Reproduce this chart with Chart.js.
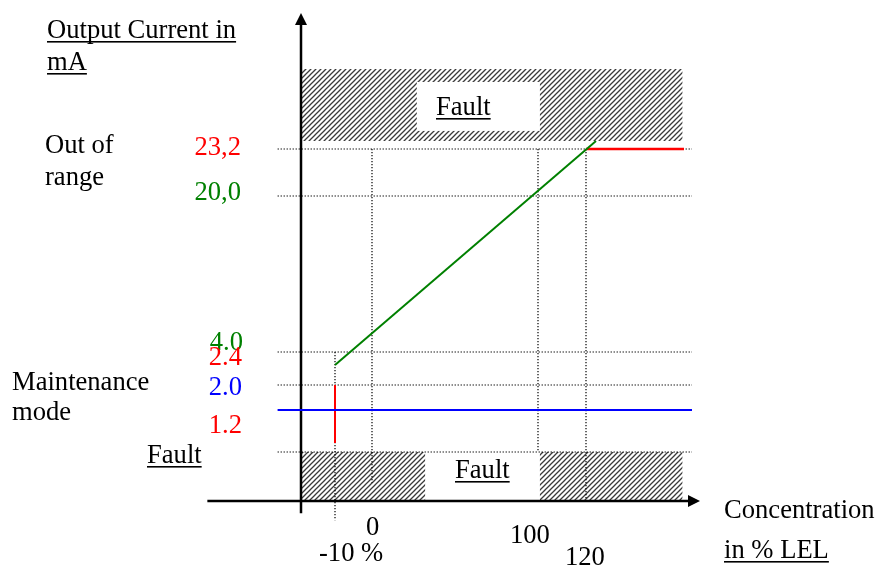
<!DOCTYPE html>
<html>
<head>
<meta charset="utf-8">
<script src="https://cdn.jsdelivr.net/npm/chart.js@4/dist/chart.umd.min.js"></script>
<style>
html,body{margin:0;padding:0;background:#fff;}
canvas{display:block;}
</style>
</head>
<body>
<canvas id="c" width="876" height="565"></canvas>
<script>
// ---------- data ----------
const measX = [-10, 125];          // % LEL, measuring line
const measY = [2.4, 24.0];         // mA
const overX = [120, 180];          // out of range (over-range) line
const overY = [23.2, 23.2];
const lowX = [-10, -10];           // underrange / fault line
const lowY = [2.0, 1.2];
const maintX = [-27, 185];         // maintenance mode line
const maintY = [1.6, 1.6];

const hGridLevels = [23.2, 20.0, 4.0, 2.0, 1.0];
const hGridFrom = -27, hGridTo = 185;
const vGridAt = [-10, 0, 100, 120];
const vGridTop = [4.0, 23.2, 23.2, 23.2];
const vGridBottom = [-0.6, 0.37, 1.0, 0.0];

const yTickLabels = ['23,2', '20,0', '4.0', '2.4', '2.0', '1.2'];
const yTickColors = ['#ff0000', '#008000', '#008000', '#ff0000', '#0000ff', '#ff0000'];
const xTickLabels = ['0', '-10 %', '100', '120'];

// ---------- schematic (non-proportional) scale definition ----------
const W = 876, H = 565;
const SCALE_BREAKS = {
  x: [[-110,0],[-20,301],[-10,335],[0,372],[100,538],[120,586],[125,596],[300,876]].map(b => [b[0], b[1]/W]),
  y: [[-2,565],[0,501],[1.0,452],[1.2,443],[1.6,410],[2.0,385],[2.4,365],[4.0,352],[20.0,196],[23.2,149],[24.0,141],[28.0,69],[32.0,0]].map(b => [b[0], 1 - b[1]/H])
};
function interp(b, v, from, to){
  if (v <= b[0][from]) { const a=b[0], c=b[1]; return a[to] + (v-a[from])*(c[to]-a[to])/(c[from]-a[from]); }
  for (let i=0;i<b.length-1;i++){
    const a=b[i], c=b[i+1];
    if (v >= a[from] && v <= c[from]) return a[to] + (v-a[from])*(c[to]-a[to])/(c[from]-a[from]);
  }
  const a=b[b.length-2], c=b[b.length-1];
  return a[to] + (v-a[from])*(c[to]-a[to])/(c[from]-a[from]);
}
class PiecewiseScale extends Chart.LinearScale {
  getPixelForValue(v){ return this.getPixelForDecimal(interp(SCALE_BREAKS[this.id], v, 0, 1)); }
  getValueForPixel(p){ return interp(SCALE_BREAKS[this.id], this.getDecimalForPixel(p), 1, 0); }
}
PiecewiseScale.id = 'piecewise';
PiecewiseScale.defaults = Chart.LinearScale.defaults;
Chart.register(PiecewiseScale);

// zones (fault bands and their white label boxes)
const bands = [{x0:-20,x1:179,y0:24.0,y1:28.0},{x0:-20,x1:179,y0:0.02,y1:1.0}];
const whiteBoxes = [{x0:27,x1:100.8,y0:24.56,y1:27.28},{x0:32,x1:100.8,y0:0.0,y1:1.0}];
const yAxisAt = -20, yAxisFrom = -0.38, yAxisTo = 31.25;
const xAxisAt = 0, xAxisFrom = -48, xAxisTo = 190;

function hatch(ctx){
  const t = document.createElement('canvas'); t.width = 5; t.height = 5;
  const g = t.getContext('2d');
  g.strokeStyle = '#3a3a3a'; g.lineWidth = 1.3;
  g.beginPath();
  g.moveTo(-1,6); g.lineTo(6,-1);
  g.moveTo(-6,6); g.lineTo(1,-1);
  g.moveTo(4,6); g.lineTo(11,-1);
  g.stroke();
  return ctx.createPattern(t, 'repeat');
}

const FONT = '26.6px "Liberation Serif", "Times New Roman", serif';
const texts = [
  {t:'Output Current in', x:47, y:38, u:true},
  {t:'mA', x:47, y:70, u:true},
  {t:'Out of', x:45, y:153},
  {t:'range', x:45, y:185},
  {t:'Maintenance', x:12, y:390},
  {t:'mode', x:12, y:420},
  {t:'Fault', x:147, y:463, u:true},
  {t:'Fault', x:436, y:115, u:true},
  {t:'Fault', x:455, y:478, u:true},
  {t:'Concentration', x:724, y:518},
  {t:'in % LEL', x:724, y:558, u:true}
];
const yTickPos = [[241,155],[241,200],[243,350],[242,365],[242,395],[242,433]];
const xTickPos = [[366,535],[319,561],[510,543],[565,565]];

const diagram = {
  id: 'diagram',
  beforeDatasetsDraw(chart){
    const ctx = chart.ctx, xs = chart.scales.x, ys = chart.scales.y;
    ctx.save();
    ctx.fillStyle = hatch(ctx);
    bands.forEach(b => {
      const x0 = xs.getPixelForValue(b.x0), x1 = xs.getPixelForValue(b.x1);
      const y0 = ys.getPixelForValue(b.y1), y1 = ys.getPixelForValue(b.y0);
      ctx.fillRect(x0, y0, x1-x0, y1-y0);
    });
    ctx.fillStyle = '#fff';
    whiteBoxes.forEach(b => {
      const x0 = xs.getPixelForValue(b.x0), x1 = xs.getPixelForValue(b.x1);
      const y0 = ys.getPixelForValue(b.y1), y1 = ys.getPixelForValue(b.y0);
      ctx.fillRect(x0, y0, x1-x0, y1-y0);
    });
    // axes
    ctx.strokeStyle = '#000'; ctx.fillStyle = '#000'; ctx.lineWidth = 2.5;
    const ax = xs.getPixelForValue(yAxisAt);
    const ayTop = ys.getPixelForValue(yAxisTo), ayBot = ys.getPixelForValue(yAxisFrom);
    ctx.beginPath(); ctx.moveTo(ax, ayBot); ctx.lineTo(ax, ayTop + 8); ctx.stroke();
    ctx.beginPath(); ctx.moveTo(ax, ayTop); ctx.lineTo(ax-6, ayTop+12); ctx.lineTo(ax+6, ayTop+12); ctx.closePath(); ctx.fill();
    const ay = ys.getPixelForValue(xAxisAt);
    const axL = xs.getPixelForValue(xAxisFrom), axR = xs.getPixelForValue(xAxisTo);
    ctx.beginPath(); ctx.moveTo(axL, ay); ctx.lineTo(axR - 8, ay); ctx.stroke();
    ctx.beginPath(); ctx.moveTo(axR, ay); ctx.lineTo(axR-12, ay-6); ctx.lineTo(axR-12, ay+6); ctx.closePath(); ctx.fill();
    ctx.restore();
  },
  afterDatasetsDraw(chart){
    const ctx = chart.ctx;
    ctx.save();
    ctx.font = FONT; ctx.textBaseline = 'alphabetic';
    ctx.textAlign = 'left';
    texts.forEach(o => {
      ctx.fillStyle = '#000';
      ctx.fillText(o.t, o.x, o.y);
      if (o.u) {
        const w = ctx.measureText(o.t).width;
        ctx.fillRect(o.x, o.y + 3, w, 1.6);
      }
    });
    ctx.textAlign = 'right';
    yTickLabels.forEach((t,i) => { ctx.fillStyle = yTickColors[i]; ctx.fillText(t, yTickPos[i][0], yTickPos[i][1]); });
    ctx.textAlign = 'left'; ctx.fillStyle = '#000';
    xTickLabels.forEach((t,i) => ctx.fillText(t, xTickPos[i][0], xTickPos[i][1]));
    ctx.restore();
  }
};

function pts(xa, ya){ return xa.map((x,i) => ({x, y: ya[i]})); }
const grid = { borderColor:'#000', borderWidth:1.2, borderDash:[1.3,1.7], showLine:true, pointRadius:0, order:10 };
const datasets = [
  {label:'4-20 mA', data: pts(measX, measY), borderColor:'#008000', borderWidth:2, showLine:true, pointRadius:0, order:1},
  {label:'Over range', data: pts(overX, overY), borderColor:'#ff0000', borderWidth:2.5, showLine:true, pointRadius:0, order:1},
  {label:'Fault low', data: pts(lowX, lowY), borderColor:'#ff0000', borderWidth:2, showLine:true, pointRadius:0, order:1},
  {label:'Maintenance', data: pts(maintX, maintY), borderColor:'#0000ff', borderWidth:2, showLine:true, pointRadius:0, order:0}
];
hGridLevels.forEach(v => datasets.push(Object.assign({label:'h'+v, data: pts([hGridFrom, hGridTo], [v, v])}, grid)));
vGridAt.forEach((v,i) => datasets.push(Object.assign({label:'v'+v, data: pts([v, v], [vGridTop[i], vGridBottom[i]])}, grid)));

new Chart(document.getElementById('c'), {
  type: 'scatter',
  data: { datasets },
  options: {
    responsive: false, animation: false, devicePixelRatio: 1,
    layout: { padding: 0 },
    clip: false,
    plugins: { legend: {display:false}, tooltip: {enabled:false} },
    elements: { line: { tension: 0 } },
    scales: {
      x: { type:'piecewise', display:false, min:-110, max:300 },
      y: { type:'piecewise', display:false, min:-2, max:32 }
    }
  },
  plugins: [diagram]
});
</script>
</body>
</html>
